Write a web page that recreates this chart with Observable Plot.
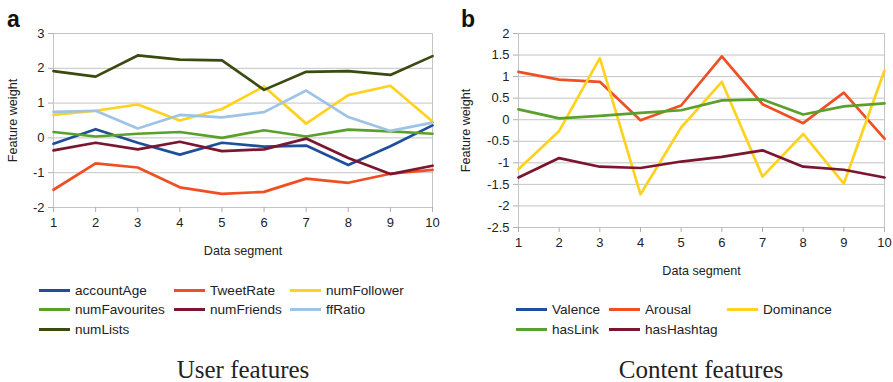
<!DOCTYPE html>
<html>
<head>
<meta charset="utf-8">
<script src="https://cdn.jsdelivr.net/npm/d3@7"></script>
<script src="https://cdn.jsdelivr.net/npm/@observablehq/plot@0.6"></script>
<style>
  html, body { margin: 0; padding: 0; background: #fff; }
  #root { position: relative; width: 893px; height: 382px; overflow: hidden; font-family: "Liberation Sans", Arial, sans-serif; color: #222; }
  .panel { position: absolute; top: 0; }
  .letter { position: absolute; font-weight: bold; font-size: 23px; line-height: 1; color: #111; }
  .leg { position: absolute; height: 16px; display: flex; align-items: center; font-size: 13.6px; color: #222; white-space: nowrap; }
  .leg span.sw { display: inline-block; width: 31px; height: 3px; margin-right: 5px; }
  .cap { position: absolute; font-family: "Liberation Serif", "Times New Roman", serif; font-size: 25px; line-height: 20px; height: 20px; color: #222; white-space: nowrap; transform: translate(-50%, -50%); }
</style>
</head>
<body>
<div id="root"></div>
<script>
// ---------- data ----------
const segments = [1, 2, 3, 4, 5, 6, 7, 8, 9, 10];

// Panel a: user features
const userNames = ["accountAge", "TweetRate", "numFollower", "numFavourites", "numFriends", "ffRatio", "numLists"];
const userColors = ["#1f4f9a", "#f04e23", "#ffd21f", "#5aa02c", "#7b1530", "#9dc3e6", "#3a4a10"];
const accountAge    = [-0.17, 0.25, -0.14, -0.48, -0.14, -0.25, -0.22, -0.78, -0.24, 0.36];
const TweetRate     = [-1.49, -0.73, -0.85, -1.42, -1.61, -1.55, -1.17, -1.29, -1.03, -0.92];
const numFollower   = [0.66, 0.78, 0.96, 0.50, 0.83, 1.48, 0.41, 1.23, 1.50, 0.47];
const numFavourites = [0.17, 0.04, 0.12, 0.17, 0.00, 0.22, 0.04, 0.24, 0.19, 0.12];
const numFriends    = [-0.36, -0.14, -0.33, -0.11, -0.38, -0.33, -0.02, -0.58, -1.04, -0.80];
const ffRatio       = [0.75, 0.78, 0.27, 0.66, 0.59, 0.74, 1.36, 0.60, 0.20, 0.44];
const numLists      = [1.92, 1.76, 2.37, 2.25, 2.23, 1.38, 1.90, 1.92, 1.81, 2.35];
const userTicksY = [-2, -1, 0, 1, 2, 3];

// Panel b: content features
const contentNames = ["Valence", "Arousal", "Dominance", "hasLink", "hasHashtag"];
const contentColors = ["#1f4f9a", "#f04e23", "#ffd21f", "#5aa02c", "#7b1530"];
const Arousal    = [1.11, 0.93, 0.88, -0.01, 0.33, 1.47, 0.36, -0.08, 0.63, -0.44];
const Dominance  = [-1.15, -0.26, 1.43, -1.73, -0.18, 0.88, -1.32, -0.33, -1.48, 1.14];
const hasLink    = [0.24, 0.03, 0.09, 0.16, 0.22, 0.45, 0.47, 0.12, 0.31, 0.38];
const hasHashtag = [-1.34, -0.89, -1.09, -1.12, -0.97, -0.86, -0.71, -1.09, -1.16, -1.34];
const contentTicksY = [-2.5, -2, -1.5, -1, -0.5, 0, 0.5, 1, 1.5, 2];

// ---------- helpers ----------
function longTable(seriesMap) {
  const rows = [];
  for (const [name, vals] of Object.entries(seriesMap)) {
    vals.forEach((v, i) => rows.push({series: name, segment: segments[i], value: v}));
  }
  return rows;
}
const userData = longTable({accountAge, TweetRate, numFollower, numFavourites, numFriends, ffRatio, numLists});
const contentData = longTable({Arousal, Dominance, hasLink, hasHashtag});

const FONT = '"Liberation Sans", Arial, sans-serif';
const GRID = "#c4c4c4";

function makeChart({data, names, colors, yTicks, width, height, ml, mr, mt, mb, yLabelDx}) {
  return Plot.plot({
    width, height,
    marginLeft: ml, marginRight: mr, marginTop: mt, marginBottom: mb,
    style: {fontFamily: FONT, fontSize: "13px", color: "#222", background: "transparent", overflow: "visible"},
    x: {domain: [1, 10]},
    y: {domain: [yTicks[0], yTicks[yTicks.length - 1]]},
    color: {domain: names, range: colors},
    marks: [
      Plot.ruleY(yTicks, {stroke: GRID, strokeWidth: 1}),
      Plot.ruleX([1, 10], {stroke: GRID, strokeWidth: 1}),
      Plot.axisY({ticks: yTicks, tickSize: 5, tickPadding: 4, stroke: "#b0b0b0", fill: "#222",
                  tickFormat: d => String(d), label: null, fontSize: 13}),
      Plot.axisX({ticks: segments, tickSize: 5, tickPadding: 5, stroke: "#b0b0b0", fill: "#222",
                  tickFormat: d => String(d), label: null, fontSize: 13}),
      Plot.lineY(data, {x: "segment", y: "value", stroke: "series", strokeWidth: 2.7, curve: "linear"}),
      Plot.text(["Data segment"], {frameAnchor: "bottom", dy: 43, lineAnchor: "middle", fontSize: 12.6, fill: "#222"}),
      Plot.text(["Feature weight"], {frameAnchor: "left", dx: yLabelDx, rotate: -90, textAnchor: "middle", lineAnchor: "middle", fontSize: 12.6, fill: "#222"})
    ]
  });
}

const root = document.getElementById("root");

function addPanel(left, svg) {
  const d = document.createElement("div");
  d.className = "panel";
  d.style.left = left + "px";
  d.appendChild(svg);
  root.appendChild(d);
}

addPanel(0, makeChart({data: userData, names: userNames, colors: userColors, yTicks: userTicksY,
  width: 446, height: 262, ml: 53, mr: 14, mt: 33, mb: 55, yLabelDx: -41}));
addPanel(446, makeChart({data: contentData, names: contentNames, colors: contentColors, yTicks: contentTicksY,
  width: 447, height: 282, ml: 72, mr: 9, mt: 33, mb: 55, yLabelDx: -53}));

function addEl(cls, text, x, y) {
  const e = document.createElement("div");
  e.className = cls;
  e.textContent = text;
  e.style.left = x + "px";
  e.style.top = y + "px";
  root.appendChild(e);
  return e;
}
addEl("letter", "a", 7, 8);
addEl("letter", "b", 461, 8);

function addLegend(names, colors, cols, rowTop, rowStep) {
  names.forEach((n, i) => {
    const c = i % cols.length, r = Math.floor(i / cols.length);
    const e = document.createElement("div");
    e.className = "leg";
    e.style.left = cols[c] + "px";
    e.style.top = (rowTop + r * rowStep - 8) + "px";
    const sw = document.createElement("span");
    sw.className = "sw";
    sw.style.background = colors[i];
    e.appendChild(sw);
    e.appendChild(document.createTextNode(n));
    root.appendChild(e);
  });
}
addLegend(userNames, userColors, [39, 174, 290], 290, 19.5);
addLegend(contentNames, contentColors, [516, 609, 727], 309, 20);

addEl("cap", "User features", 243, 370);
addEl("cap", "Content features", 701, 370);
</script>
</body>
</html>
